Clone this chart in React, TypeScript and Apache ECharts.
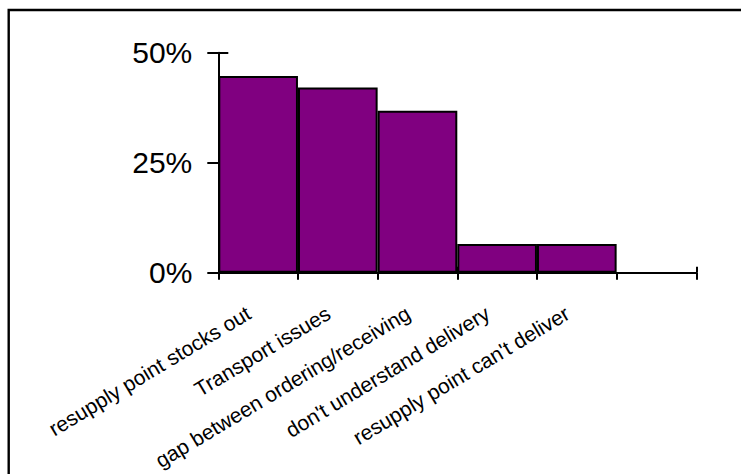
import React, { useEffect, useRef } from "react";
import * as echarts from "echarts";

// Reasons given for resupply problems, with the share of responses for each
const categories: string[] = [
  "resupply point stocks out",
  "Transport issues",
  "gap between ordering/receiving",
  "don't understand delivery",
  "resupply point can't deliver",
];
const shares: number[] = [44.7, 42.1, 36.8, 6.5, 6.5];
const yTicks = { min: 0, max: 50, interval: 25 };

const FONT = "'Liberation Sans', Arial, Helvetica, sans-serif";

export default function App() {
  const ref = useRef<HTMLDivElement>(null);

  useEffect(() => {
    if (!ref.current) return;
    const chart = echarts.init(ref.current, undefined, { renderer: "svg" });
    // one empty slot after the last bar, as in the original layout
    const axisData = [...categories, ""];

    chart.setOption({
      animation: false,
      backgroundColor: "#ffffff",
      grid: { left: 218.3, right: 44.7, top: 52.7, bottom: 201.3, containLabel: false },
      graphic: [
        {
          type: "rect",
          shape: { x: 8.7, y: 10, width: 1000, height: 1000 },
          style: { fill: "none", stroke: "#000", lineWidth: 2.4 },
          silent: true,
        },
      ],
      xAxis: [
        {
          type: "category",
          data: axisData,
          boundaryGap: true,
          axisLine: { show: true, lineStyle: { color: "#000", width: 2 } },
          axisTick: { show: true, length: 7, lineStyle: { color: "#000", width: 2 } },
          axisLabel: {
            interval: 0,
            rotate: 31,
            margin: 33,
            padding: [0, 11, 0, 0],
            color: "#000",
            fontSize: 21,
            fontFamily: FONT,
          },
        },
        {
          type: "category",
          data: axisData,
          position: "bottom",
          boundaryGap: true,
          axisLine: { show: false },
          axisTick: { show: true, inside: true, length: 6, lineStyle: { color: "#000", width: 2 } },
          axisLabel: { show: false },
        },
      ],
      yAxis: [
        {
          type: "value",
          min: yTicks.min,
          max: yTicks.max,
          interval: yTicks.interval,
          position: "left",
          splitLine: { show: false },
          axisLine: { show: true, lineStyle: { color: "#000", width: 2 } },
          axisTick: { show: true, length: 11, lineStyle: { color: "#000", width: 2 } },
          axisLabel: {
            formatter: "{value}%",
            margin: 26,
            color: "#000",
            fontSize: 30,
            fontFamily: FONT,
          },
        },
        {
          type: "value",
          min: yTicks.min,
          max: yTicks.max,
          interval: yTicks.interval,
          position: "left",
          splitLine: { show: false },
          axisLine: { show: false },
          axisTick: { show: true, inside: true, length: 10, lineStyle: { color: "#000", width: 2 } },
          axisLabel: { show: false },
        },
      ],
      series: [
        {
          type: "bar",
          data: shares,
          xAxisIndex: 0,
          yAxisIndex: 0,
          barCategoryGap: "0%",
          itemStyle: { color: "#800080", borderColor: "#000", borderWidth: 2 },
        },
      ],
    });

    return () => chart.dispose();
  }, []);

  return (
    <div
      ref={ref}
      style={{ position: "fixed", left: 0, top: 0, width: 741, height: 474, background: "#fff" }}
    />
  );
}
